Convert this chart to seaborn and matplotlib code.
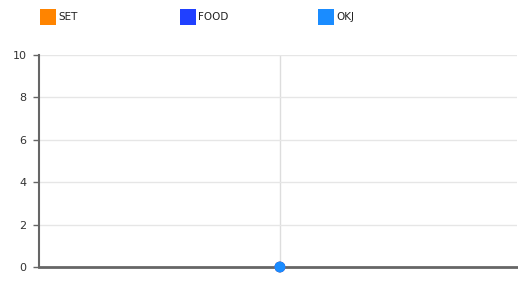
import pandas as pd
import matplotlib
matplotlib.use("Agg")
import matplotlib.pyplot as plt
from matplotlib.patches import Patch
import seaborn as sns

categories = [""]
series_names = ["SET", "FOOD", "OKJ"]
set_values = [0]
food_values = [0]
okj_values = [0]
colors = ["#ff8400", "#2040ff", "#1a8cff"]
y_ticks = [0, 2, 4, 6, 8, 10]

rows = []
for name, vals in zip(series_names, [set_values, food_values, okj_values]):
    for cat, v in zip(categories, vals):
        rows.append({"category": cat, "series": name, "value": v})
df = pd.DataFrame(rows)
df["x"] = df["category"].map({c: i for i, c in enumerate(categories)})

sns.set_style("white")
plt.rcParams["font.family"] = ["DejaVu Sans"]

W, H = 518, 285
fig = plt.figure(figsize=(W / 100, H / 100), dpi=100)
ax = fig.add_axes([39 / W, (H - 267) / H, (517 - 39) / W, (267 - 55) / H])

sns.scatterplot(data=df, x="x", y="value", hue="series", hue_order=series_names,
                palette=colors, s=60, edgecolor="none", legend=False, ax=ax,
                zorder=5, clip_on=False)

ax.set_xlim(-0.504, 0.496)
ax.set_ylim(0, 10)
ax.set_yticks(y_ticks)
ax.set_xticks([0])
ax.set_xticklabels(categories)
ax.set_xlabel("")
ax.set_ylabel("")
ax.grid(axis="y", color="#e6e6e6", linewidth=1)
ax.grid(axis="x", color="#dddddd", linewidth=1)
ax.set_axisbelow(True)

for s in ["top", "right"]:
    ax.spines[s].set_visible(False)
ax.spines["left"].set_color("#666666")
ax.spines["left"].set_linewidth(1.5)
ax.spines["bottom"].set_color("#666666")
ax.spines["bottom"].set_linewidth(2)
ax.tick_params(axis="y", left=True, direction="out", length=4, width=1,
               color="#666666", labelsize=8, labelcolor="#333333", pad=5)
ax.tick_params(axis="x", bottom=True, direction="out", length=3, width=1,
               color="#666666", labelsize=7)

# one legend per series, spaced like the original
legend_x = [38, 178, 316]
for name, c, lx in zip(series_names, colors, legend_x):
    leg = fig.legend(handles=[Patch(facecolor=c, edgecolor="none", label=name)],
                     loc="center left", bbox_to_anchor=(lx / W, 1 - 17 / H),
                     frameon=False, fontsize=7.5, handlelength=1.55,
                     handleheight=1.9, handletextpad=0.2, borderaxespad=0,
                     borderpad=0.2)
    leg.get_texts()[0].set_color("#222222")

fig.savefig("out.png", dpi=100)
